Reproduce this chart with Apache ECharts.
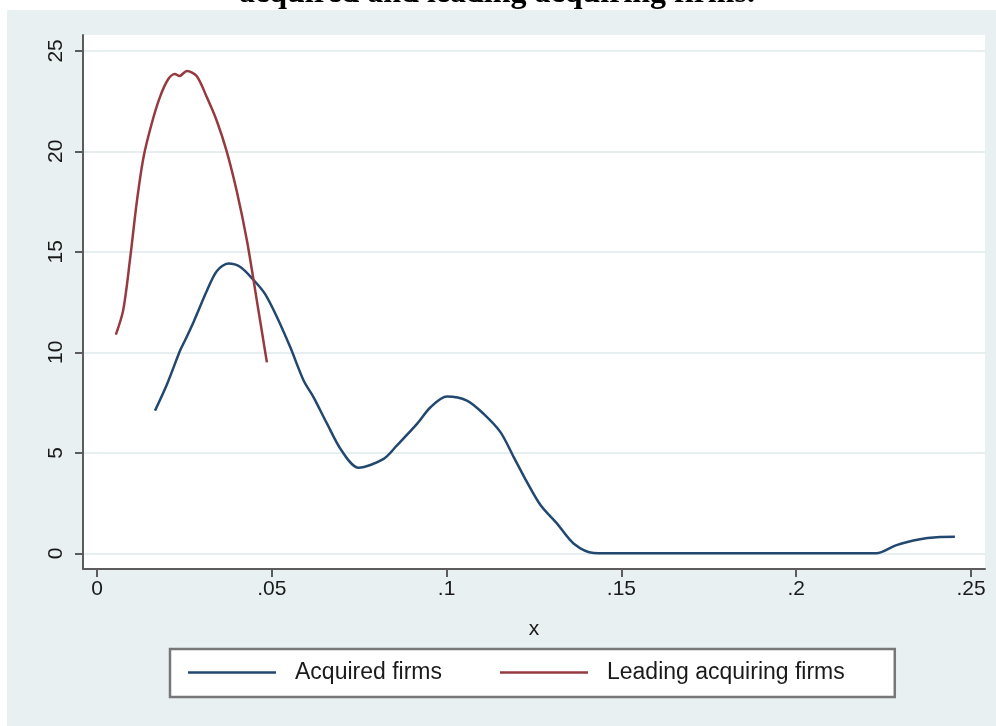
<!DOCTYPE html>
<html>
<head>
<meta charset="UTF-8">
<title>Acquired and leading acquiring firms</title>
<script src="https://cdn.jsdelivr.net/npm/echarts@6/dist/echarts.min.js"></script>
<style>
  html, body { margin: 0; padding: 0; background: #fff; }
  #chart { width: 996px; height: 726px; }
</style>
</head>
<body>
<div id="chart"></div>
<script>
// density curves
var acquiredX = [0.0166, 0.0200, 0.0238, 0.0252, 0.0276, 0.0314, 0.0343, 0.0376, 0.0410, 0.0448,
                 0.0481, 0.0515, 0.0553, 0.0591, 0.0620, 0.0658, 0.0700, 0.0748, 0.0820, 0.0858,
                 0.0916, 0.0954, 0.1001, 0.1058, 0.1106, 0.1154, 0.1192, 0.1230, 0.1269, 0.1316,
                 0.1364, 0.1421, 0.1500, 0.1800, 0.2100, 0.2229, 0.2287, 0.2354, 0.2402, 0.2454];
var acquiredY = [7.1, 8.4, 10.1, 10.6, 11.5, 13.05, 14.05, 14.42, 14.25, 13.6,
                 12.9, 11.75, 10.25, 8.6, 7.75, 6.45, 5.1, 4.26, 4.7, 5.37,
                 6.45, 7.27, 7.8, 7.6, 6.94, 6.03, 4.79, 3.54, 2.39, 1.48,
                 0.48, 0.02, 0, 0, 0, 0, 0.41, 0.7, 0.8, 0.82];

var leadingX = [0.0054, 0.0075, 0.0095, 0.0114, 0.0133, 0.0156, 0.0180, 0.0204, 0.0223, 0.0236,
                0.0257, 0.0285, 0.0314, 0.0343, 0.0371, 0.0400, 0.0429, 0.0457, 0.0486];
var leadingY = [10.88, 12.1, 14.7, 17.5, 19.7, 21.35, 22.7, 23.6, 23.85, 23.75,
                24.0, 23.75, 22.7, 21.5, 20.0, 18.0, 15.55, 12.6, 9.5];

var yTicks = [0, 5, 10, 15, 20, 25];
var xTicks = [0, 0.05, 0.1, 0.15, 0.2, 0.25];
var xTickLabels = ["0", ".05", ".1", ".15", ".2", ".25"];

function pairs(xs, ys) {
  var out = [];
  for (var i = 0; i < xs.length; i++) out.push([xs[i], ys[i]]);
  return out;
}

var font = "'Liberation Sans', Helvetica, Arial, sans-serif";
var chart = echarts.init(document.getElementById("chart"));

var option = {
  backgroundColor: "#ffffff",
  animation: false,
  graphic: [
    { type: "rect", z: -10, shape: { x: 7, y: 10, width: 989, height: 716 },
      style: { fill: "#e9f0f2" } },
    { type: "text", z: 10, x: 497, y: -6,
      style: { text: "acquired and leading acquiring firms.", fill: "#000",
               font: "bold 32px 'Liberation Serif', 'Times New Roman', serif",
               align: "center", verticalAlign: "middle" } }
  ],
  grid: {
    left: 83, right: 11, top: 35, bottom: 157,
    show: true, backgroundColor: "#ffffff", borderWidth: 0
  },
  xAxis: {
    type: "value",
    min: -0.004, max: 0.254,
    name: "x", nameLocation: "middle", nameGap: 50,
    nameTextStyle: { fontFamily: font, fontSize: 21, color: "#1a1a1a" },
    axisLine: { show: true, onZero: false, lineStyle: { color: "#5c5c5c", width: 2 } },
    axisTick: { show: true, length: 8, customValues: xTicks,
                lineStyle: { color: "#5c5c5c", width: 2 } },
    axisLabel: {
      customValues: xTicks, margin: 10,
      fontFamily: font, fontSize: 21, color: "#1a1a1a",
      formatter: function (v) {
        var i = xTicks.indexOf(Math.round(v * 1000) / 1000);
        return i >= 0 ? xTickLabels[i] : "";
      }
    },
    splitLine: { show: false }
  },
  yAxis: {
    type: "value",
    min: -0.78, max: 25.79,
    axisLine: { show: true, onZero: false, lineStyle: { color: "#5c5c5c", width: 2 } },
    axisTick: { show: true, length: 8, customValues: yTicks,
                lineStyle: { color: "#5c5c5c", width: 2 } },
    axisLabel: {
      customValues: yTicks, margin: 16, rotate: 90,
      fontFamily: font, fontSize: 21, color: "#1a1a1a"
    },
    splitLine: { show: true, lineStyle: { color: "#e6eef0", width: 2 } }
  },
  legend: {
    left: 170, top: 649,
    orient: "horizontal",
    backgroundColor: "#ffffff",
    borderColor: "#777777", borderWidth: 2.5, borderRadius: 0,
    padding: [12, 50, 13, 18],
    icon: "rect",
    itemWidth: 88, itemHeight: 2.5, itemGap: 58,
    textStyle: { fontFamily: font, fontSize: 23, color: "#1a1a1a", padding: [0, 0, 0, 14] },
    data: ["Acquired firms", "Leading acquiring firms"]
  },
  series: [
    {
      name: "Acquired firms", type: "line",
      data: pairs(acquiredX, acquiredY),
      symbol: "none", smooth: 0.3,
      lineStyle: { color: "#23486f", width: 2.5 },
      itemStyle: { color: "#23486f" }
    },
    {
      name: "Leading acquiring firms", type: "line",
      data: pairs(leadingX, leadingY),
      symbol: "none", smooth: 0.3,
      lineStyle: { color: "#963a40", width: 2.5 },
      itemStyle: { color: "#963a40" }
    }
  ]
};

chart.setOption(option);
</script>
</body>
</html>
